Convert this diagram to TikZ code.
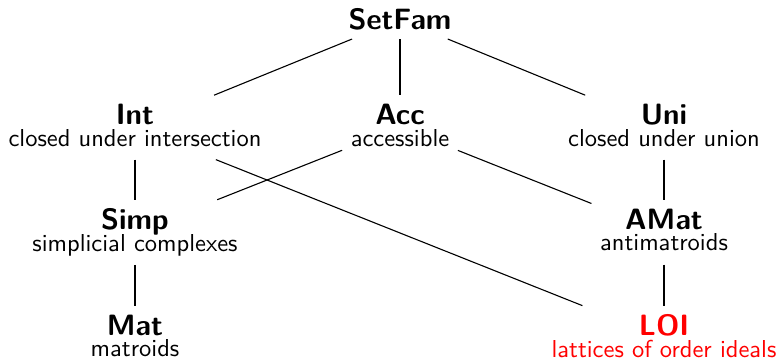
\documentclass[tikz,border=0pt]{standalone}
\newcommand{\famlabel}[2]{{\large\bfseries #1}\\[-3.1pt]#2\rule[-2pt]{0pt}{0pt}}
\begin{document}
\begin{tikzpicture}[x=0.408pt,y=-0.408pt,
  every node/.style={font=\sffamily, align=center},
  edge/.style={draw=black, line width=0.45pt}]
\useasboundingbox (0,0) rectangle (779,358);
\node (setfam) at (400,19.5) {\large\bfseries SetFam};
\node (int) at (135,127.4) {\famlabel{Int}{closed under intersection}};
\node (acc) at (400,127.4) {\famlabel{Acc}{accessible}};
\node (uni) at (664,127.4) {\famlabel{Uni}{closed under union}};
\node (simp) at (135,232.3) {\famlabel{Simp}{simplicial complexes}};
\node (amat) at (664,232.3) {\famlabel{AMat}{antimatroids}};
\node (mat) at (135,338.2) {\famlabel{Mat}{matroids}};
\node[text=red] (loi) at (664,338.2) {\famlabel{LOI}{lattices of order ideals}};
\draw[edge] (setfam) -- (int);
\draw[edge] (setfam) -- (acc);
\draw[edge] (setfam) -- (uni);
\draw[edge] (int) -- (simp);
\draw[edge] (int) -- (loi);
\draw[edge] (acc) -- (simp);
\draw[edge] (acc) -- (amat);
\draw[edge] (uni) -- (amat);
\draw[edge] (simp) -- (mat);
\draw[edge] (amat) -- (loi);
\end{tikzpicture}
\end{document}
